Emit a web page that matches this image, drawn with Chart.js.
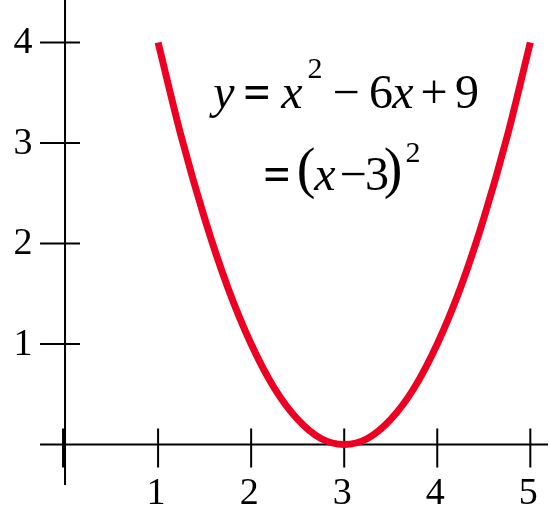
<!DOCTYPE html>
<html>
<head>
<meta charset="utf-8">
<script src="https://cdn.jsdelivr.net/npm/chart.js@4/dist/chart.umd.min.js"></script>
<style>
  html, body { margin: 0; padding: 0; background: #fff; }
  #chart { display: block; }
</style>
</head>
<body>
<canvas id="chart" width="550" height="517"></canvas>
<script>
// points
const xValues = [1, 1.25, 1.5, 1.75, 2, 2.25, 2.5, 2.75, 3, 3.25, 3.5, 3.75, 4, 4.25, 4.5, 4.75, 5];
const yValues = [4, 3.06, 2.25, 1.56, 1, 0.56, 0.25, 0.06, 0, 0.06, 0.25, 0.56, 1, 1.56, 2.25, 3.06, 4];

const xTicks = [1, 2, 3, 4, 5];
const yTicks = [1, 2, 3, 4];

const SERIF = '"Liberation Serif", "Times New Roman", serif';

// axes drawn through the origin, ticks crossing the axis lines
const axesPlugin = {
  id: 'originAxes',
  beforeDatasetsDraw(chart) {
    const { ctx, chartArea, scales } = chart;
    const x0 = scales.x.getPixelForValue(0);
    const y0 = scales.y.getPixelForValue(0);
    ctx.save();
    ctx.strokeStyle = '#000';
    ctx.lineWidth = 2;
    ctx.beginPath();
    ctx.moveTo(x0, chartArea.top);
    ctx.lineTo(x0, chartArea.bottom);
    ctx.moveTo(chartArea.left, y0);
    ctx.lineTo(chartArea.right, y0);
    [0, ...yTicks].forEach(v => {
      const py = scales.y.getPixelForValue(v);
      ctx.moveTo(x0 - 25, py);
      ctx.lineTo(x0 + 15, py);
    });
    xTicks.forEach(v => {
      const px = scales.x.getPixelForValue(v);
      ctx.moveTo(px, y0 - 16);
      ctx.lineTo(px, y0 + 23);
    });
    ctx.stroke();
    // heavier mark at the origin
    ctx.lineWidth = 4;
    ctx.beginPath();
    ctx.moveTo(x0 - 1, y0 - 16);
    ctx.lineTo(x0 - 1, y0 + 23);
    ctx.stroke();

    ctx.fillStyle = '#000';
    ctx.font = '38px ' + SERIF;
    ctx.textAlign = 'center';
    ctx.textBaseline = 'middle';
    yTicks.forEach(v => {
      ctx.fillText(String(v), 23, scales.y.getPixelForValue(v) + 1);
    });
    ctx.textBaseline = 'alphabetic';
    xTicks.forEach(v => {
      ctx.fillText(String(v), scales.x.getPixelForValue(v) - 2, 504);
    });
    ctx.restore();
  },
  afterDraw(chart) {
    const ctx = chart.ctx;
    const main = '48px ' + SERIF;
    const bold = 'bold 48px ' + SERIF;
    const ital = 'italic 48px ' + SERIF;
    const sup = '30px ' + SERIF;
    const paren = '56px ' + SERIF;
    // [text, centre x, baseline, font]
    const pieces = [
      ['y', 224, 108, ital],
      ['=', 257, 108, bold],
      ['x', 292, 108, ital],
      ['2', 315, 78, sup],
      ['\u2212', 346, 108, main],
      ['6', 381, 108, main],
      ['x', 403, 108, ital],
      ['+', 434, 108, main],
      ['9', 467, 108, main],
      ['=', 277, 190, bold],
      ['(', 306, 187, paren],
      ['x', 325, 190, ital],
      ['\u2212', 353, 190, main],
      ['3', 377, 190, main],
      [')', 393, 187, paren],
      ['2', 413, 162, sup]
    ];
    ctx.save();
    ctx.fillStyle = '#000';
    ctx.textAlign = 'center';
    ctx.textBaseline = 'alphabetic';
    pieces.forEach(([t, x, y, f]) => {
      ctx.font = f;
      ctx.fillText(t, x, y);
    });
    ctx.restore();
  }
};

new Chart(document.getElementById('chart'), {
  type: 'scatter',
  data: {
    datasets: [{
      data: xValues.map((x, i) => ({ x: x, y: yValues[i] })),
      showLine: true,
      borderColor: '#ee0022',
      borderWidth: 7,
      pointRadius: 0,
      cubicInterpolationMode: 'monotone',
      fill: false
    }]
  },
  options: {
    responsive: false,
    animation: false,
    layout: {
      padding: { left: 44, right: 2, top: 0, bottom: 32 }
    },
    scales: {
      x: { type: 'linear', display: false, min: -0.226, max: 5.19 },
      y: { type: 'linear', display: false, min: -0.403, max: 4.423 }
    },
    plugins: {
      legend: { display: false },
      tooltip: { enabled: false }
    }
  },
  plugins: [axesPlugin]
});
</script>
</body>
</html>
